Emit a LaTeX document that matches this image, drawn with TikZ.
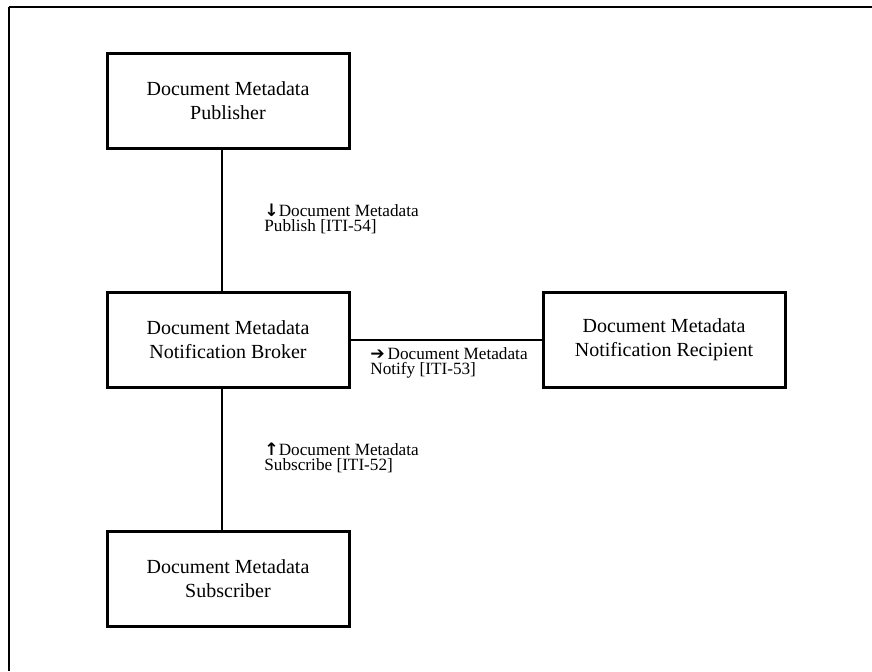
\documentclass[tikz,border=0pt]{standalone}
\usepackage{fontspec}
\setmainfont{Liberation Serif}
\newfontfamily\arrowfont{DejaVu Sans}
\usetikzlibrary{positioning}

\newcommand{\txarrow}[1]{{\arrowfont\bfseries\fontsize{8.6}{7.6}\selectfont #1}}

\begin{document}
\begin{tikzpicture}[x=0.5pt, y=-0.5pt,
    actor/.style={draw, line width=1.5pt, minimum width=121pt, minimum height=47.5pt,
        align=center, font=\fontsize{10}{12}\selectfont},
    txlabel/.style={anchor=west, align=left, inner sep=0pt,
        font=\fontsize{8.6}{7.6}\selectfont},
    link/.style={line width=0.8pt}]

    % --- FRAME ---
    \useasboundingbox (0,0) rectangle (872,671);
    \draw[line width=1.3pt] (9,671) -- (9,7);
    \draw[line width=0.8pt] (8.5,7) -- (872,7);

    % --- ACTORS ---
    \node[actor] (pub) at (228,100.5) {Document Metadata\\Publisher};
    \node[actor] (broker) at (228,340) {Document Metadata\\Notification Broker};
    \node[actor] (recip) at (664,340) {Document Metadata\\Notification Recipient};
    \node[actor] (sub) at (228,579) {Document Metadata\\Subscriber};

    % --- TRANSACTIONS ---
    \draw[link] ([xshift=-3pt]pub.south) -- ([xshift=-3pt]broker.north);
    \draw[link] (broker.east) -- (recip.west);
    \draw[link] ([xshift=-3pt]broker.south) -- ([xshift=-3pt]sub.north);

    \node[txlabel] (publish) at (264,219)
        {\txarrow{↓}Document Metadata\\Publish [ITI-54]};
    \node[txlabel] (notify) at (370,363)
        {\txarrow{➔}\,Document Metadata\\Notify [ITI-53]};
    \node[txlabel] (subscribe) at (264,458)
        {\txarrow{↑}Document Metadata\\Subscribe [ITI-52]};
\end{tikzpicture}
\end{document}
